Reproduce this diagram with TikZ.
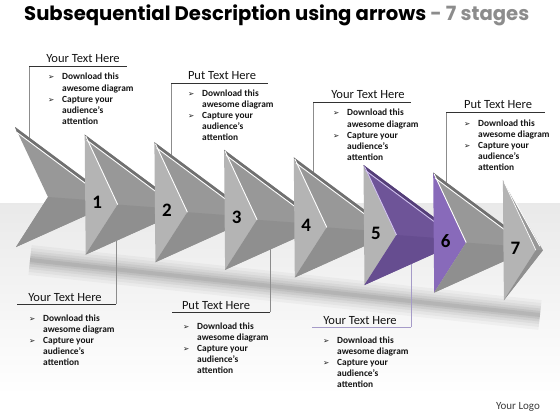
\documentclass[tikz,border=0pt]{standalone}
\usepackage{graphicx}
\usepackage{fontspec}
\setmainfont{Carlito}
\newfontfamily\titlefont{Poppins}
\newfontfamily\symfont{DejaVu Sans}
\usetikzlibrary{calc}
\definecolor{gface}{RGB}{152,152,152}
\definecolor{gfacelow}{RGB}{143,143,143}
\definecolor{gside}{RGB}{180,180,180}
\definecolor{gtop}{RGB}{112,112,112}
\definecolor{pface}{RGB}{110,84,152}
\definecolor{pfacelow}{RGB}{102,77,144}
\definecolor{pside}{RGB}{136,106,186}
\definecolor{ptop}{RGB}{84,62,120}
\definecolor{plight}{RGB}{210,195,240}
\definecolor{vgray}{RGB}{140,140,140}
\definecolor{ugray}{RGB}{50,50,50}
\definecolor{pline}{RGB}{165,155,200}
\definecolor{titlegray}{RGB}{140,140,140}
\definecolor{txt}{RGB}{20,20,20}
\newcommand\bul{{\symfont\fontsize{7.5}{8}\selectfont ➢}}
\tikzset{
  hdr/.style={anchor=base, inner sep=0pt, font=\fontsize{12.5}{14}\selectfont, text=txt},
  listnode/.style={anchor=base west, inner sep=0pt, font=\bfseries\fontsize{9.4}{11.2}\selectfont, text=txt},
  numtext/.style={inner sep=0pt, font=\bfseries\fontsize{19}{19}\selectfont, text=black},
  uline/.style={draw=ugray, line width=0.8pt},
  vline/.style={draw=vgray, line width=0.6pt},
  puline/.style={draw=pline, line width=0.8pt},
  pvline/.style={draw=pline, line width=0.7pt}
}
\newcommand\clist[3]{\node[listnode] (#1) at (#2,#3) {\begin{tabular}[t]{@{}p{14pt}@{}l@{}}\bul & Download this\\ & awesome diagram\\ \bul & Capture your\\ & audience’s\\ & attention\end{tabular}};}
\begin{document}
\begin{tikzpicture}[x=1pt,y=-1pt]
\useasboundingbox (0,0) rectangle (560,420);
% background
\fill[white] (0,0) rectangle (560,420);
\shade[top color=gray!17, bottom color=white] (0,203) rectangle (560,395);
% shadow
\foreach \w/\o in {30/0.03, 24/0.035, 18/0.045, 13/0.05, 8/0.06, 4/0.06}
  \draw[line width=\w pt, black, opacity=\o, line cap=butt] (30,260) -- (540,315);
% callout lines
\coordinate (u1a) at (29,66);  \coordinate (u1b) at (127,66);  \coordinate (v1) at (29,150);
\coordinate (u2a) at (171,83); \coordinate (u2b) at (268,83);  \coordinate (v2) at (171,170);
\coordinate (u3a) at (313,102);\coordinate (u3b) at (411,102); \coordinate (v3) at (313,190);
\coordinate (u4a) at (446,112);\coordinate (u4b) at (545,112); \coordinate (v4) at (446,200);
\coordinate (u5a) at (17,304); \coordinate (u5b) at (116,304); \coordinate (v5) at (116,225);
\coordinate (u6a) at (172,312);\coordinate (u6b) at (270,312); \coordinate (v6) at (270,235);
\coordinate (u7a) at (312,327);\coordinate (u7b) at (411,327); \coordinate (v7) at (411,250);
\draw[vline] (u1a) -- (v1);
\draw[vline] (u2a) -- (v2);
\draw[vline] (u3a) -- (v3);
\draw[vline] (u4a) -- (v4);
\draw[vline] (u5b) -- (v5);
\draw[vline] (u6b) -- (v6);
\draw[pvline] (u7b) -- (v7);
\draw[uline] (u1a) -- (u1b);
\draw[uline] (u2a) -- (u2b);
\draw[uline] (u3a) -- (u3b);
\draw[uline] (u4a) -- (u4b);
\draw[uline] (u5a) -- (u5b);
\draw[uline] (u6a) -- (u6b);
\draw[puline] (u7a) -- (u7b);
% chevrons
\foreach \k/\colF/\colL/\colS/\colT/\colH in {1/gface/gfacelow/gside/gtop/white, 2/gface/gfacelow/gside/gtop/white, 3/gface/gfacelow/gside/gtop/white, 4/gface/gfacelow/gside/gtop/white, 5/gface/gfacelow/gside/gtop/white, 6/pface/pfacelow/pside/ptop/plight, 7/gface/gfacelow/gside/gtop/white}{
  \pgfmathsetmacro\x{15+69.7*(\k-1)}
  \pgfmathsetmacro\y{127+7.6*(\k-1)}
  \fill[\colF] (\x,\y) -- (\x+101,\y+75) -- (\x+1,\y+120) -- (\x+33,\y+70) -- cycle;
  \fill[\colL] (\x+33,\y+70) -- (\x+101,\y+75) -- (\x+1,\y+120) -- cycle;
  \fill[\colT] (\x,\y) -- (\x+88,\y+65.3) -- (\x+88,\y+69.5) -- (\x+2,\y+5.5) -- cycle;
  \draw[\colH, line width=0.9pt] (\x+2,\y+5.5) -- (\x+88,\y+69.5);
  \ifnum\k>1 \draw[\colH, line width=0.9pt] (\x+1,\y+1.5) -- (\x+33,\y+70); \fi
  \fill[\colS] (\x+69.7,\y+7.6) -- (\x+102.7,\y+77.6) -- (\x+70.7,\y+127.6) -- cycle;
}
% last thin chevron
\pgfmathsetmacro\x{15+69.7*7}
\pgfmathsetmacro\y{127+7.6*7}
\fill[gface] (\x,\y) -- (\x+40,\y+70) -- (\x+1,\y+120) -- (\x+33,\y+70) -- cycle;
\fill[gfacelow] (\x+33,\y+70) -- (\x+40,\y+70) -- (\x+1,\y+120) -- cycle;
\draw[white, line width=0.9pt] (\x+2,\y+3) -- (\x+37,\y+66);
\draw[white, line width=0.7pt] (\x+1,\y+1.5) -- (\x+33,\y+70);
% numbers
\foreach \k in {1,...,7}{
  \pgfmathsetmacro\x{15+69.7*\k}
  \pgfmathsetmacro\y{127+7.6*\k}
  \node[numtext] (num\k) at (\x+12.5,\y+68) {\k};
}
% title
\node[anchor=west, inner sep=0pt] (title) at (24,15) {\resizebox{505pt}{!}{\titlefont\bfseries Subsequential Description using arrows \textcolor{titlegray}{- 7 stages}}};
% headers
\node[hdr] (h1) at (83,63) {Your Text Here};
\node[hdr] (h2) at (222,80) {Put Text Here};
\node[hdr] (h3) at (368,99) {Your Text Here};
\node[hdr] (h4) at (498,109) {Put Text Here};
\node[hdr] (h5) at (65,301) {Your Text Here};
\node[hdr] (h6) at (216,309) {Put Text Here};
\node[hdr] (h7) at (360,324) {Your Text Here};
% lists
\clist{l1}{48}{80}
\clist{l2}{188}{96}
\clist{l3}{333}{116}
\clist{l4}{464}{126}
\clist{l5}{29}{321}
\clist{l6}{183}{329}
\clist{l7}{323}{343}
\node[inner sep=0pt, font=\fontsize{11}{13}\selectfont, text={rgb,255:red,60;green,60;blue,60}] (logo) at (518,407) {Your Logo};
\end{tikzpicture}
\end{document}
